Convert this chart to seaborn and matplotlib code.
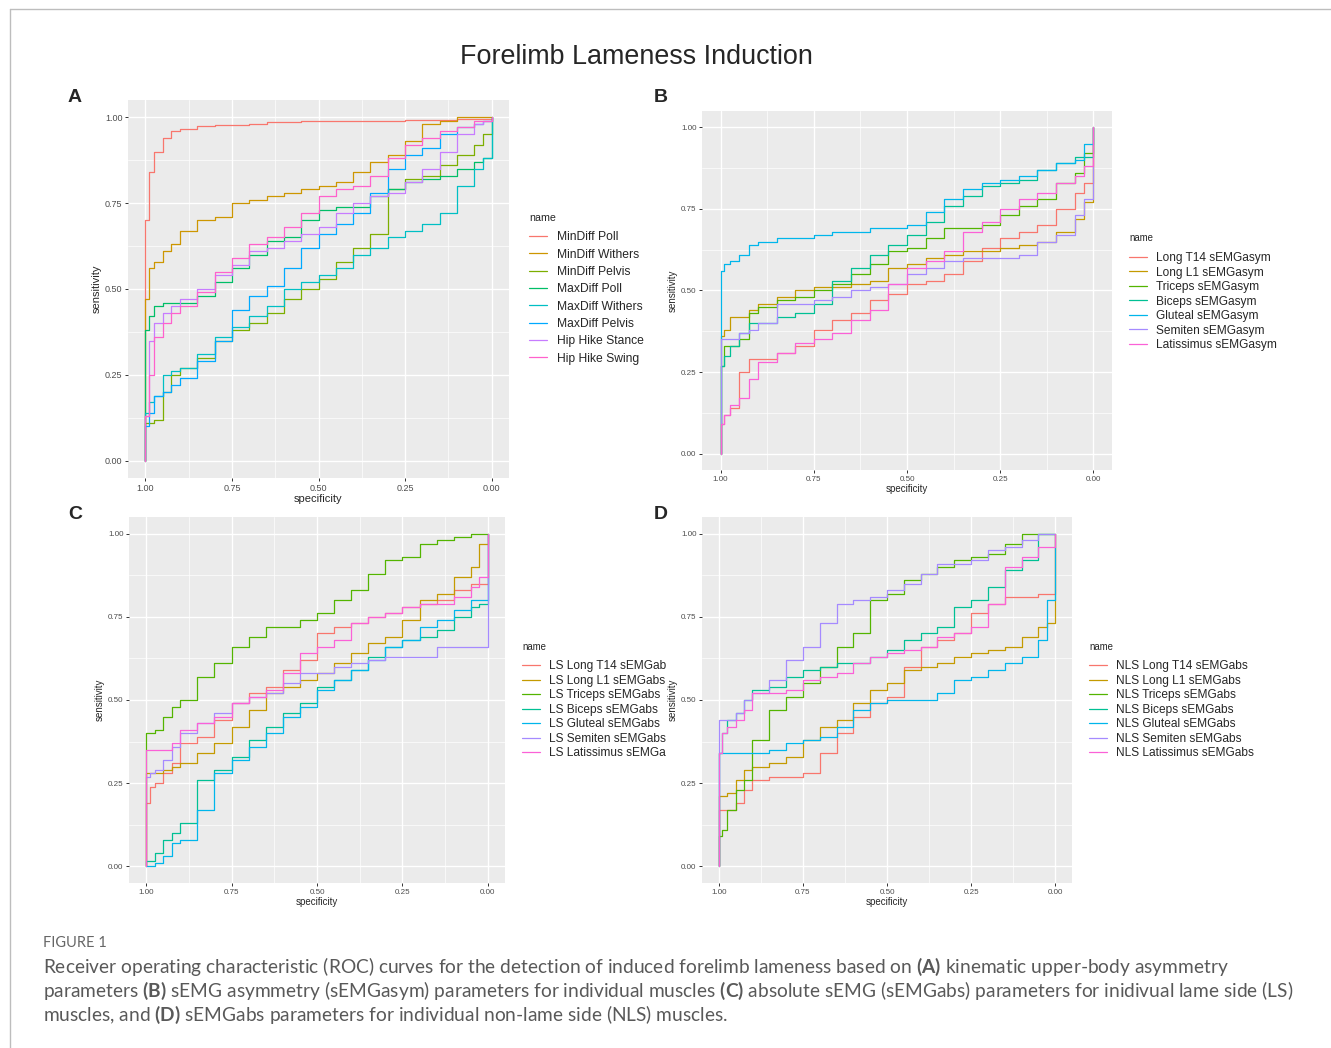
import pandas as pd
import seaborn as sns
import matplotlib.pyplot as plt
from matplotlib.lines import Line2D

# specificity grid on which the sensitivity of each ROC curve was read
spec_grid = [1.0, 0.99, 0.975, 0.95, 0.925, 0.9, 0.85, 0.8, 0.75, 0.7, 0.65, 0.6,
             0.55, 0.5, 0.45, 0.4, 0.35, 0.3, 0.25, 0.2, 0.15, 0.1, 0.05, 0.025]

# Panel A - kinematic parameters
a_names = ['MinDiff Poll', 'MinDiff Withers', 'MinDiff Pelvis', 'MaxDiff Poll',
           'MaxDiff Withers', 'MaxDiff Pelvis', 'Hip Hike Stance', 'Hip Hike Swing']
a_mindiff_poll = [0.70, 0.84, 0.90, 0.94, 0.96, 0.965, 0.975, 0.978, 0.978, 0.98, 0.985, 0.985,
                  0.988, 0.99, 0.99, 0.99, 0.99, 0.99, 0.992, 0.993, 0.993, 0.995, 0.995, 0.995]
a_mindiff_withers = [0.47, 0.56, 0.58, 0.61, 0.63, 0.67, 0.70, 0.71, 0.75, 0.76, 0.77, 0.78,
                     0.79, 0.80, 0.81, 0.84, 0.87, 0.89, 0.93, 0.98, 0.99, 1.0, 1.0, 1.0]
a_mindiff_pelvis = [0.11, 0.11, 0.12, 0.20, 0.25, 0.27, 0.30, 0.35, 0.38, 0.40, 0.43, 0.47,
                    0.50, 0.53, 0.58, 0.62, 0.66, 0.79, 0.82, 0.83, 0.86, 0.89, 0.92, 0.95]
a_maxdiff_poll = [0.38, 0.42, 0.45, 0.46, 0.46, 0.46, 0.48, 0.52, 0.56, 0.60, 0.64, 0.65,
                  0.70, 0.73, 0.74, 0.74, 0.77, 0.79, 0.81, 0.82, 0.83, 0.85, 0.87, 0.88]
a_maxdiff_withers = [0.14, 0.17, 0.19, 0.25, 0.26, 0.27, 0.31, 0.36, 0.39, 0.42, 0.45, 0.50,
                     0.52, 0.54, 0.56, 0.60, 0.62, 0.65, 0.67, 0.69, 0.72, 0.80, 0.85, 0.88]
a_maxdiff_pelvis = [0.10, 0.14, 0.19, 0.20, 0.22, 0.24, 0.29, 0.35, 0.44, 0.48, 0.51, 0.56,
                    0.62, 0.66, 0.69, 0.72, 0.78, 0.85, 0.89, 0.91, 0.95, 0.97, 0.98, 0.99]
a_hip_stance = [0.13, 0.35, 0.40, 0.43, 0.45, 0.47, 0.50, 0.54, 0.57, 0.61, 0.62, 0.64,
                0.66, 0.68, 0.72, 0.75, 0.77, 0.78, 0.81, 0.85, 0.90, 0.95, 0.98, 0.99]
a_hip_swing = [0.13, 0.25, 0.36, 0.40, 0.43, 0.45, 0.49, 0.55, 0.59, 0.63, 0.65, 0.68,
               0.72, 0.77, 0.79, 0.80, 0.83, 0.88, 0.92, 0.94, 0.96, 0.97, 0.99, 0.99]

# Panel B - sEMG asymmetry
b_names = ['Long T14 sEMGasym', 'Long L1 sEMGasym', 'Triceps sEMGasym', 'Biceps sEMGasym',
           'Gluteal sEMGasym', 'Semiten sEMGasym', 'Latissimus sEMGasym']
b_long_t14 = [0.09, 0.12, 0.14, 0.25, 0.29, 0.29, 0.31, 0.33, 0.38, 0.41, 0.43, 0.47,
              0.49, 0.52, 0.53, 0.55, 0.59, 0.63, 0.66, 0.68, 0.70, 0.75, 0.80, 0.83]
b_long_l1 = [0.36, 0.38, 0.42, 0.42, 0.44, 0.46, 0.48, 0.50, 0.51, 0.51, 0.52, 0.53,
             0.57, 0.58, 0.60, 0.61, 0.62, 0.62, 0.63, 0.64, 0.65, 0.68, 0.72, 0.77]
b_triceps = [0.27, 0.33, 0.33, 0.35, 0.43, 0.45, 0.47, 0.48, 0.50, 0.52, 0.55, 0.58,
             0.62, 0.63, 0.66, 0.69, 0.69, 0.70, 0.73, 0.76, 0.78, 0.83, 0.86, 0.92]
b_biceps = [0.27, 0.30, 0.33, 0.37, 0.40, 0.40, 0.42, 0.43, 0.46, 0.53, 0.57, 0.61,
            0.64, 0.67, 0.71, 0.76, 0.79, 0.82, 0.83, 0.84, 0.87, 0.89, 0.91, 0.91]
b_gluteal = [0.56, 0.58, 0.59, 0.61, 0.64, 0.65, 0.66, 0.66, 0.67, 0.68, 0.68, 0.69,
             0.69, 0.70, 0.74, 0.78, 0.81, 0.83, 0.84, 0.85, 0.87, 0.89, 0.90, 0.95]
b_semiten = [0.35, 0.35, 0.35, 0.37, 0.38, 0.40, 0.46, 0.46, 0.47, 0.48, 0.50, 0.51,
             0.52, 0.55, 0.57, 0.59, 0.60, 0.60, 0.60, 0.61, 0.65, 0.67, 0.73, 0.78]
b_latissimus = [0.09, 0.12, 0.15, 0.17, 0.23, 0.28, 0.31, 0.34, 0.35, 0.37, 0.41, 0.44,
                0.52, 0.57, 0.59, 0.62, 0.68, 0.71, 0.75, 0.78, 0.80, 0.83, 0.85, 0.88]

# Panel C - absolute sEMG, lame side
c_names = ['LS Long T14 sEMGab', 'LS Long L1 sEMGabs', 'LS Triceps sEMGabs', 'LS Biceps sEMGabs',
           'LS Gluteal sEMGabs', 'LS Semiten sEMGabs', 'LS Latissimus sEMGa']
c_long_t14 = [0.19, 0.24, 0.25, 0.28, 0.31, 0.37, 0.39, 0.44, 0.49, 0.52, 0.54, 0.59,
              0.62, 0.70, 0.72, 0.73, 0.75, 0.76, 0.78, 0.79, 0.80, 0.83, 0.85, 0.85]
c_long_l1 = [0.28, 0.28, 0.28, 0.29, 0.30, 0.31, 0.34, 0.37, 0.42, 0.47, 0.52, 0.54,
             0.56, 0.58, 0.61, 0.64, 0.67, 0.69, 0.74, 0.80, 0.82, 0.87, 0.90, 0.97]
c_triceps = [0.40, 0.40, 0.41, 0.45, 0.48, 0.50, 0.57, 0.61, 0.66, 0.69, 0.72, 0.72,
             0.74, 0.76, 0.80, 0.83, 0.88, 0.92, 0.93, 0.97, 0.98, 0.99, 1.0, 1.0]
c_biceps = [0.015, 0.015, 0.04, 0.08, 0.10, 0.13, 0.26, 0.29, 0.33, 0.38, 0.42, 0.46,
            0.49, 0.54, 0.56, 0.59, 0.63, 0.66, 0.68, 0.69, 0.71, 0.75, 0.78, 0.79]
c_gluteal = [0.0, 0.0, 0.01, 0.03, 0.07, 0.08, 0.17, 0.28, 0.32, 0.36, 0.40, 0.45,
             0.48, 0.53, 0.56, 0.59, 0.62, 0.66, 0.68, 0.72, 0.74, 0.77, 0.80, 0.80]
c_semiten = [0.27, 0.28, 0.29, 0.32, 0.36, 0.40, 0.43, 0.46, 0.49, 0.51, 0.52, 0.55,
             0.58, 0.58, 0.60, 0.61, 0.62, 0.63, 0.63, 0.63, 0.66, 0.66, 0.66, 0.66]
c_latissimus = [0.35, 0.35, 0.35, 0.35, 0.37, 0.41, 0.43, 0.45, 0.49, 0.51, 0.53, 0.58,
                0.64, 0.66, 0.68, 0.73, 0.75, 0.76, 0.78, 0.79, 0.79, 0.81, 0.84, 0.87]

# Panel D - absolute sEMG, non-lame side
d_names = ['NLS Long T14 sEMGabs', 'NLS Long L1 sEMGabs', 'NLS Triceps sEMGabs', 'NLS Biceps sEMGabs',
           'NLS Gluteal sEMGabs', 'NLS Semiten sEMGabs', 'NLS Latissimus sEMGabs']
d_long_t14 = [0.17, 0.17, 0.17, 0.19, 0.23, 0.26, 0.27, 0.27, 0.28, 0.34, 0.40, 0.45,
              0.49, 0.51, 0.60, 0.66, 0.68, 0.70, 0.76, 0.79, 0.81, 0.81, 0.82, 0.82]
d_long_l1 = [0.21, 0.21, 0.22, 0.26, 0.29, 0.30, 0.31, 0.33, 0.38, 0.42, 0.44, 0.49,
             0.53, 0.55, 0.59, 0.60, 0.61, 0.63, 0.64, 0.65, 0.66, 0.69, 0.72, 0.73]
d_triceps = [0.09, 0.11, 0.17, 0.23, 0.26, 0.38, 0.47, 0.51, 0.55, 0.60, 0.66, 0.70,
             0.80, 0.82, 0.86, 0.88, 0.90, 0.92, 0.93, 0.94, 0.97, 1.0, 1.0, 1.0]
d_biceps = [0.34, 0.40, 0.44, 0.46, 0.50, 0.53, 0.54, 0.57, 0.59, 0.60, 0.61, 0.61,
            0.63, 0.65, 0.68, 0.70, 0.72, 0.78, 0.80, 0.84, 0.89, 0.92, 1.0, 1.0]
d_gluteal = [0.34, 0.34, 0.34, 0.34, 0.34, 0.34, 0.35, 0.37, 0.38, 0.39, 0.42, 0.47,
             0.49, 0.50, 0.50, 0.50, 0.52, 0.56, 0.57, 0.59, 0.61, 0.63, 0.68, 0.80]
d_semiten = [0.44, 0.44, 0.44, 0.46, 0.50, 0.52, 0.56, 0.62, 0.66, 0.73, 0.79, 0.80,
             0.81, 0.83, 0.85, 0.88, 0.91, 0.91, 0.92, 0.95, 0.96, 0.98, 1.0, 1.0]
d_latissimus = [0.34, 0.40, 0.42, 0.44, 0.47, 0.52, 0.52, 0.53, 0.56, 0.57, 0.58, 0.61,
                0.63, 0.64, 0.65, 0.66, 0.69, 0.70, 0.72, 0.79, 0.90, 0.93, 0.96, 0.96]

colors8 = ['#F8766D', '#CD9600', '#7CAE00', '#00BE67', '#00BFC4', '#00A9FF', '#C77CFF', '#FF61CC']
colors7 = ['#F8766D', '#C49A00', '#53B400', '#00C094', '#00B6EB', '#A58AFF', '#FB61D7']

sns.set_theme(style='darkgrid', rc={'axes.facecolor': '#EBEBEB', 'grid.color': 'white'})
plt.rcParams['font.family'] = ['Liberation Sans', 'DejaVu Sans']
plt.rcParams['mathtext.fontset'] = 'custom'
plt.rcParams['mathtext.rm'] = 'Lato'
plt.rcParams['mathtext.bf'] = 'Lato:bold'

W, H = 1331, 1048
fig = plt.figure(figsize=(W / 100, H / 100), dpi=100)


def px_axes(l, t, r, b):
    return fig.add_axes([l / W, 1 - b / H, (r - l) / W, (b - t) / H])


def draw_panel(ax, names, curves, colors, tick_fs, lab_fs, leg_fs, title_fs, leg_xy,
               spacing, title_gap):
    parts = []
    for n, s in zip(names, curves):
        parts.append(pd.DataFrame({'specificity': [1.0] + spec_grid + [0.0, 0.0],
                                   'sensitivity': [0.0] + s + [s[-1], 1.0],
                                   'name': n}))
    df = pd.concat(parts, ignore_index=True)
    sns.lineplot(data=df, x='specificity', y='sensitivity', hue='name', hue_order=names,
                 palette=colors, estimator=None, sort=False, drawstyle='steps-post',
                 lw=0.9, ax=ax)
    ax.set_xlim(1.05, -0.05)
    ax.set_ylim(-0.05, 1.05)
    ticks = [0.0, 0.25, 0.5, 0.75, 1.0]
    labels = ['0.00', '0.25', '0.50', '0.75', '1.00']
    ax.set_xticks(ticks, labels)
    ax.set_yticks(ticks, labels)
    minor = [0.125, 0.375, 0.625, 0.875]
    ax.set_xticks(minor, minor=True)
    ax.set_yticks(minor, minor=True)
    ax.grid(which='major', color='white', lw=1.0)
    ax.grid(which='minor', color='white', lw=0.5)
    ax.tick_params(which='major', bottom=True, left=True, length=2.5, width=0.7,
                   color='#333333', labelsize=tick_fs, labelcolor='#4D4D4D', pad=1.5)
    ax.tick_params(which='minor', length=0)
    for sp in ax.spines.values():
        sp.set_visible(False)
    ax.set_xlabel('specificity', fontsize=lab_fs, labelpad=1)
    ax.set_ylabel('sensitivity', fontsize=lab_fs, labelpad=2)
    sns.move_legend(ax, 'upper left', bbox_to_anchor=(leg_xy[0] / W, 1 - leg_xy[1] / H),
                    bbox_transform=fig.transFigure, frameon=False, title='name',
                    fontsize=leg_fs, title_fontsize=title_fs, labelspacing=spacing,
                    handlelength=1.5, handletextpad=0.8, borderpad=0, alignment='left')
    # a little more room between the legend title and the keys, like ggplot
    ax.get_legend()._legend_box.sep = title_gap


ax_a = px_axes(128, 100, 509, 478)
draw_panel(ax_a, a_names,
           [a_mindiff_poll, a_mindiff_withers, a_mindiff_pelvis, a_maxdiff_poll,
            a_maxdiff_withers, a_maxdiff_pelvis, a_hip_stance, a_hip_swing],
           colors8, 6.5, 8, 8.7, 7.7, (523, 207), 0.44, 6.0)

ax_b = px_axes(702, 111, 1112, 470)
draw_panel(ax_b, b_names,
           [b_long_t14, b_long_l1, b_triceps, b_biceps, b_gluteal, b_semiten, b_latissimus],
           colors7, 5.8, 7, 8.6, 6.9, (1123, 227), 0.21, 6.5)

ax_c = px_axes(129, 517, 505, 883)
draw_panel(ax_c, c_names,
           [c_long_t14, c_long_l1, c_triceps, c_biceps, c_gluteal, c_semiten, c_latissimus],
           colors7, 5.8, 7, 8.6, 6.9, (516, 636), 0.21, 6.0)

ax_d = px_axes(702, 517, 1072, 883)
draw_panel(ax_d, d_names,
           [d_long_t14, d_long_l1, d_triceps, d_biceps, d_gluteal, d_semiten, d_latissimus],
           colors7, 5.8, 7, 8.6, 6.9, (1083, 636), 0.21, 6.0)

# title and panel letters
fig.text(636 / W, 1 - 57 / H, 'Forelimb Lameness Induction', fontsize=19.4, ha='center', va='center')
for letter, x, y in [('A', 75, 97), ('B', 661, 97), ('C', 75, 515), ('D', 661, 515)]:
    fig.text(x / W, 1 - y / H, letter, fontsize=14, fontweight='bold', ha='center', va='center')

# frame of the figure box
fig.add_artist(Line2D([10 / W, 1], [1 - 9 / H, 1 - 9 / H], transform=fig.transFigure,
                      color='#BDBDBD', lw=1))
fig.add_artist(Line2D([10 / W, 10 / W], [0, 1 - 9 / H], transform=fig.transFigure,
                      color='#BDBDBD', lw=1))

# caption
fig.text(43 / W, 1 - 943 / H, 'FIGURE 1', fontsize=10.5, color='#666666', va='center',
         family=['Lato', 'DejaVu Sans'])
caption = [
    r'Receiver operating characteristic (ROC) curves for the detection of induced forelimb lameness based on $\mathbf{(A)}$ kinematic upper-body asymmetry',
    r'parameters $\mathbf{(B)}$ sEMG asymmetry (sEMGasym) parameters for individual muscles $\mathbf{(C)}$ absolute sEMG (sEMGabs) parameters for inidivual lame side (LS)',
    r'muscles, and $\mathbf{(D)}$ sEMGabs parameters for individual non-lame side (NLS) muscles.',
]
for i, line in enumerate(caption):
    fig.text(43 / W, 1 - (967 + 24 * i) / H, line, fontsize=13.8, color='#595959', va='center',
             family=['Lato', 'DejaVu Sans'])

fig.savefig('out.png', dpi=100)
